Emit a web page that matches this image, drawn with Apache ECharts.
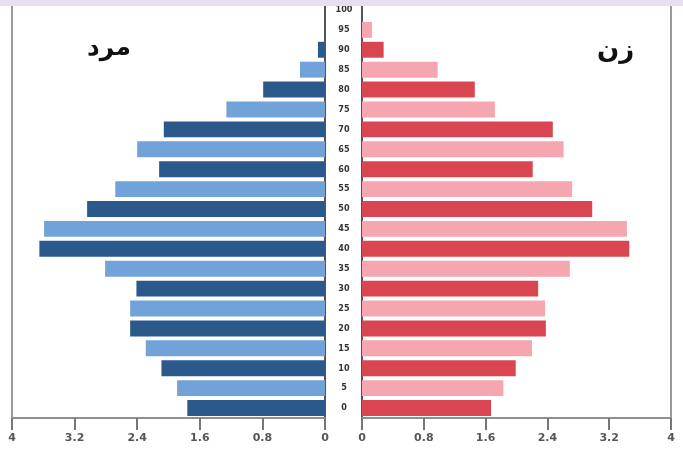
<!DOCTYPE html>
<html>
<head>
<meta charset="utf-8">
<script src="https://cdn.jsdelivr.net/npm/echarts@6/dist/echarts.min.js"></script>
<style>
html,body{margin:0;padding:0;background:#ffffff;}
#chart{width:683px;height:469px;}
</style>
</head>
<body>
<div id="chart"></div>
<script>
// Age groups (bottom to top)
const ageGroups = ['0','5','10','15','20','25','30','35','40','45','50','55','60','65','70','75','80','85','90','95','100'];
// Percent of population, male (left) and female (right)
const maleValues   = [1.76, 1.89, 2.09, 2.29, 2.49, 2.49, 2.41, 2.81, 3.65, 3.59, 3.04, 2.68, 2.12, 2.40, 2.06, 1.26, 0.79, 0.32, 0.09, 0, 0];
const femaleValues = [1.67, 1.83, 1.99, 2.20, 2.38, 2.37, 2.28, 2.69, 3.46, 3.43, 2.98, 2.72, 2.21, 2.61, 2.47, 1.72, 1.46, 0.98, 0.28, 0.13, 0];
const axisTicks = [0, 0.8, 1.6, 2.4, 3.2, 4];
const maleTitle = 'مرد';
const femaleTitle = 'زن';

const chart = echarts.init(document.getElementById('chart'), null, {renderer: 'canvas'});

const isDecade = (i) => (i % 2 === 0);
const maleColor = (p) => isDecade(p.dataIndex) ? '#2b598c' : '#71a2d8';
const femaleColor = (p) => isDecade(p.dataIndex) ? '#d94652' : '#f5a6af';

const xAxisCommon = {
  type: 'value',
  min: 0,
  max: 4,
  interval: 0.8,
  axisLine: {show: true, onZero: false, lineStyle: {color: '#8f8f8f', width: 2}},
  axisTick: {show: true, length: 12, lineStyle: {color: '#777', width: 2}},
  axisLabel: {
    color: '#555',
    fontSize: 11,
    fontWeight: 'bold',
    fontFamily: 'DejaVu Sans',
    margin: 15,
    formatter: (v) => {
      const r = Math.round(v * 10) / 10;
      return axisTicks.indexOf(r) >= 0 ? String(r) : '';
    }
  },
  splitLine: {show: false}
};

const borderLine = {
  silent: true,
  symbol: ['none', 'none'],
  label: {show: false},
  lineStyle: {color: '#9a9a9a', width: 2, type: 'solid'},
  data: [{xAxis: 4}]
};

chart.setOption({
  animation: false,
  backgroundColor: '#ffffff',
  grid: [
    {left: 12, right: 358, top: -3, bottom: 51},
    {left: 362, right: 12, top: -3, bottom: 51}
  ],
  xAxis: [
    Object.assign({gridIndex: 0, inverse: true}, xAxisCommon),
    Object.assign({gridIndex: 1}, xAxisCommon)
  ],
  yAxis: [
    {
      gridIndex: 0, type: 'category', data: ageGroups, position: 'right',
      axisLine: {show: true, lineStyle: {color: '#555', width: 2}},
      axisTick: {show: false}, axisLabel: {show: false}, splitLine: {show: false}
    },
    {
      gridIndex: 1, type: 'category', data: ageGroups, position: 'left',
      axisLine: {show: true, lineStyle: {color: '#555', width: 2}},
      axisTick: {show: false},
      axisLabel: {
        show: true, interval: 0, color: '#333', fontSize: 9, fontWeight: 'bold',
        fontFamily: 'DejaVu Sans Condensed', align: 'center', margin: 18
      },
      splitLine: {show: false}
    }
  ],
  series: [
    {
      name: maleTitle, type: 'bar', xAxisIndex: 0, yAxisIndex: 0,
      data: maleValues, barCategoryGap: '20%',
      itemStyle: {color: maleColor},
      markLine: borderLine
    },
    {
      name: femaleTitle, type: 'bar', xAxisIndex: 1, yAxisIndex: 1,
      data: femaleValues, barCategoryGap: '20%',
      itemStyle: {color: femaleColor},
      markLine: borderLine
    }
  ],
  title: [
    {text: maleTitle, left: 82, top: 31,
     textStyle: {fontFamily: 'DejaVu Sans', fontSize: 25, fontWeight: 'bold', color: '#111'}},
    {text: femaleTitle, left: 592, top: 33,
     textStyle: {fontFamily: 'DejaVu Sans', fontSize: 26, fontWeight: 'bold', color: '#111'}}
  ],
  graphic: [
    {type: 'rect', left: 0, top: 0, z: 100, shape: {width: 683, height: 6}, style: {fill: '#e5dfee'}}
  ]
});
</script>
</body>
</html>
